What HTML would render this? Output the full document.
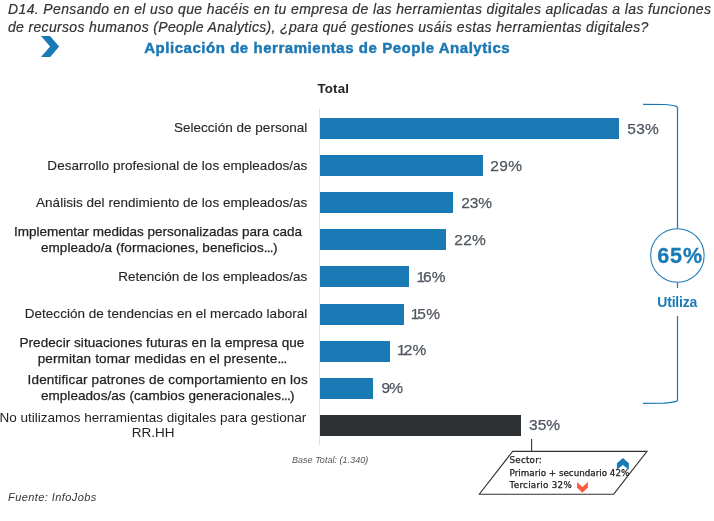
<!DOCTYPE html>
<html lang="es">
<head>
<meta charset="utf-8">
<title>Aplicación de herramientas de People Analytics</title>
<style>
  html, body { margin: 0; padding: 0; background: #ffffff; }
  body { will-change: transform; width: 714px; height: 521px; position: relative; overflow: hidden; font-family: "Liberation Sans", Arial, sans-serif; }
  .abs { position: absolute; white-space: nowrap; }
  .q { font-style: italic; font-size: 14px; line-height: 14px; color: #333; left: 8px; -webkit-text-stroke: 0.2px #333; }
  .title { left: 144.2px; top: 40.4px; font-size: 15px; line-height: 15px; font-weight: bold; color: #1b78b4; -webkit-text-stroke: 0.45px #1b78b4; letter-spacing: 0.54px; }
  .total { left: 317.5px; top: 81.8px; font-size: 13.3px; line-height: 13.3px; font-weight: bold; color: #252525; letter-spacing: 0.15px; }
  .lab { font-size: 13.5px; line-height: 13.5px; color: #262626; right: 406.7px; text-align: right; letter-spacing: 0.025px; -webkit-text-stroke: 0.12px #262626; }
  .lab2 { font-size: 13.5px; line-height: 13.5px; color: #222; }
  .b { -webkit-text-stroke: 0.25px #222; }
  .bar { position: absolute; left: 320px; height: 21px; background: #1a7ab6; }
  .pct { position: absolute; font-size: 15.5px; line-height: 15.5px; white-space: nowrap; color: #4f565f; -webkit-text-stroke: 0.25px #4f565f; }
  .sec { font-family: "DejaVu Sans", sans-serif; font-size: 8.75px; line-height: 8.75px; color: #1a1a1a; -webkit-text-stroke: 0.25px #1a1a1a; }
  .axis { position: absolute; left: 319px; top: 109px; width: 1px; height: 336px; background: #dfe1e5; }
</style>
</head>
<body>
<div class="abs q" style="top:2.25px;letter-spacing:0.372px">D14. Pensando en el uso que hacéis en tu empresa de las herramientas digitales aplicadas a las funciones</div>
<div class="abs q" style="top:20.15px;letter-spacing:0.335px">de recursos humanos (People Analytics), ¿para qué gestiones usáis estas herramientas digitales?</div>

<svg class="abs" style="left:0;top:0" width="714" height="521" viewBox="0 0 714 521">
  <polygon points="41,36 50,36 59.2,46.4 50.2,57 41,57 50.1,46.4" fill="#1a7ab6"/>
</svg>

<div class="abs title">Aplicación de herramientas de People Analytics</div>
<div class="abs total">Total</div>

<div class="axis"></div>

<!-- bars -->
<div class="bar" style="top:118px;width:299px"></div>
<div class="bar" style="top:155px;width:163px"></div>
<div class="bar" style="top:192px;width:133px"></div>
<div class="bar" style="top:229px;width:126px"></div>
<div class="bar" style="top:266px;width:89px"></div>
<div class="bar" style="top:304px;width:84px"></div>
<div class="bar" style="top:341px;width:70px"></div>
<div class="bar" style="top:378px;width:53px"></div>
<div class="bar" style="top:415px;width:201px;background:#2c3032"></div>

<!-- percentages -->
<div class="pct" style="left:627.3px;top:120.56px;letter-spacing:0.25px">53%</div>
<div class="pct" style="left:490.36px;top:157.92px;letter-spacing:0.32px">29%</div>
<div class="pct" style="left:461.22px;top:194.70px;letter-spacing:-0.08px">23%</div>
<div class="pct" style="left:454.36px;top:231.64px;letter-spacing:0.16px">22%</div>
<div class="pct" style="left:416.4px;top:268.70px;letter-spacing:0.2px"><span style="letter-spacing:-2.0px">1</span>6%</div>
<div class="pct" style="left:410.7px;top:306.02px;letter-spacing:0.2px"><span style="letter-spacing:-2.0px">1</span>5%</div>
<div class="pct" style="left:397.1px;top:342.06px;letter-spacing:0.2px"><span style="letter-spacing:-2.1px">1</span>2%</div>
<div class="pct" style="left:381.44px;top:380.14px;letter-spacing:-0.80px">9%</div>
<div class="pct" style="left:528.94px;top:417.44px;letter-spacing:0.08px">35%</div>

<!-- labels -->
<div class="abs lab" style="top:121.0px">Selección de personal</div>
<div class="abs lab" style="top:158.9px">Desarrollo profesional de los empleados/as</div>
<div class="abs lab" style="top:196.0px">Análisis del rendimiento de los empleados/as</div>
<div class="abs lab" style="top:269.9px">Retención de los empleados/as</div>
<div class="abs lab" style="top:306.6px">Detección de tendencias en el mercado laboral</div>
<div class="abs lab2 b" style="left:13.9px;top:224.9px;letter-spacing:0.0px">Implementar medidas personalizadas para cada</div>
<div class="abs lab2 b" style="left:41.0px;top:241.2px;letter-spacing:0.06px">empleado/a (formaciones, beneficios<span style="letter-spacing:-0.7px">...</span>)</div>
<div class="abs lab2 b" style="left:19.5px;top:335.8px;letter-spacing:0.06px">Predecir situaciones futuras en la empresa que</div>
<div class="abs lab2 b" style="left:37.7px;top:351.8px;letter-spacing:0.13px">permitan tomar medidas en el presente<span style="letter-spacing:-0.7px">..</span>.</div>
<div class="abs lab2 b" style="left:27.6px;top:372.9px;letter-spacing:0.14px">Identificar patrones de comportamiento en los</div>
<div class="abs lab2 b" style="left:40.9px;top:388.7px;letter-spacing:0.06px">empleados/as (cambios generacionales<span style="letter-spacing:-0.7px">...</span>)</div>
<div class="abs lab2 " style="left:-0.6px;top:410.5px;letter-spacing:0.0px">No utilizamos herramientas digitales para gestionar</div>
<div class="abs lab2 " style="left:131.8px;top:426.0px;letter-spacing:0.0px">RR.HH</div>

<!-- bracket -->
<svg class="abs" style="left:0;top:0" width="714" height="521" viewBox="0 0 714 521">
  <path d="M643,104.4 L663.5,104.5 C670,104.9 674,105.5 676.2,106.2 Q677.5,106.7 677.5,108 L677.5,228.5" fill="none" stroke="#1a7ab6" stroke-width="1.25"/>
  <path d="M677.5,282.5 L677.5,288" fill="none" stroke="#1a7ab6" stroke-width="1.25"/>
  <path d="M677.5,316 L677.5,400 Q677.5,401 676.2,401.4 C674,402.1 670,402.8 663.5,403.2 L643,403.3" fill="none" stroke="#1a7ab6" stroke-width="1.25"/>
  <circle cx="677.4" cy="255.4" r="26.75" fill="#fff" stroke="#1a7ab6" stroke-width="1.05"/>
</svg>
<div class="abs" style="left:657.2px;top:246px;font-size:21.5px;line-height:21.5px;font-weight:bold;color:#1a7ab6;letter-spacing:0.9px;-webkit-text-stroke:0.3px #1a7ab6">65%</div>
<div class="abs" style="left:657.3px;top:295.2px;font-size:14px;line-height:14px;font-weight:bold;color:#1a7ab6;letter-spacing:-0.2px">Utiliza</div>

<!-- base / fuente -->
<div class="abs" style="left:292px;top:456.4px;font-size:9px;line-height:9px;font-style:italic;color:#555;letter-spacing:0.03px">Base Total: (1.340)</div>
<div class="abs" style="left:8.1px;top:491.5px;font-size:11px;line-height:11px;font-style:italic;color:#333;letter-spacing:0.41px">Fuente: InfoJobs</div>

<!-- sector callout -->
<svg class="abs" style="left:0;top:0" width="714" height="521" viewBox="0 0 714 521">
  <line x1="531.6" y1="439" x2="531.6" y2="451.4" stroke="#333" stroke-width="1.1"/>
  <polygon points="512.6,451.4 647,451.4 613.7,494.2 479.3,494.2" fill="#fff" stroke="#333" stroke-width="1.1"/>
  <polygon points="622.9,458 628.9,463.3 628.9,469.7 622.9,465.1 616.9,469.7 616.9,463.3" fill="#1a7ab6"/>
  <polygon points="577,482 582.4,487.1 587.9,482 587.9,487.5 582.4,492.8 577,487.5" fill="#ff5a3c"/>
</svg>
<div class="abs sec" style="left:509.6px;top:456.2px;letter-spacing:0.2px">Sector:</div>
<div class="abs sec" style="left:509.6px;top:469.2px">Primario + secundario 42%</div>
<div class="abs sec" style="left:509.6px;top:481.3px;letter-spacing:0.27px">Terciario 32%</div>

</body>
</html>
